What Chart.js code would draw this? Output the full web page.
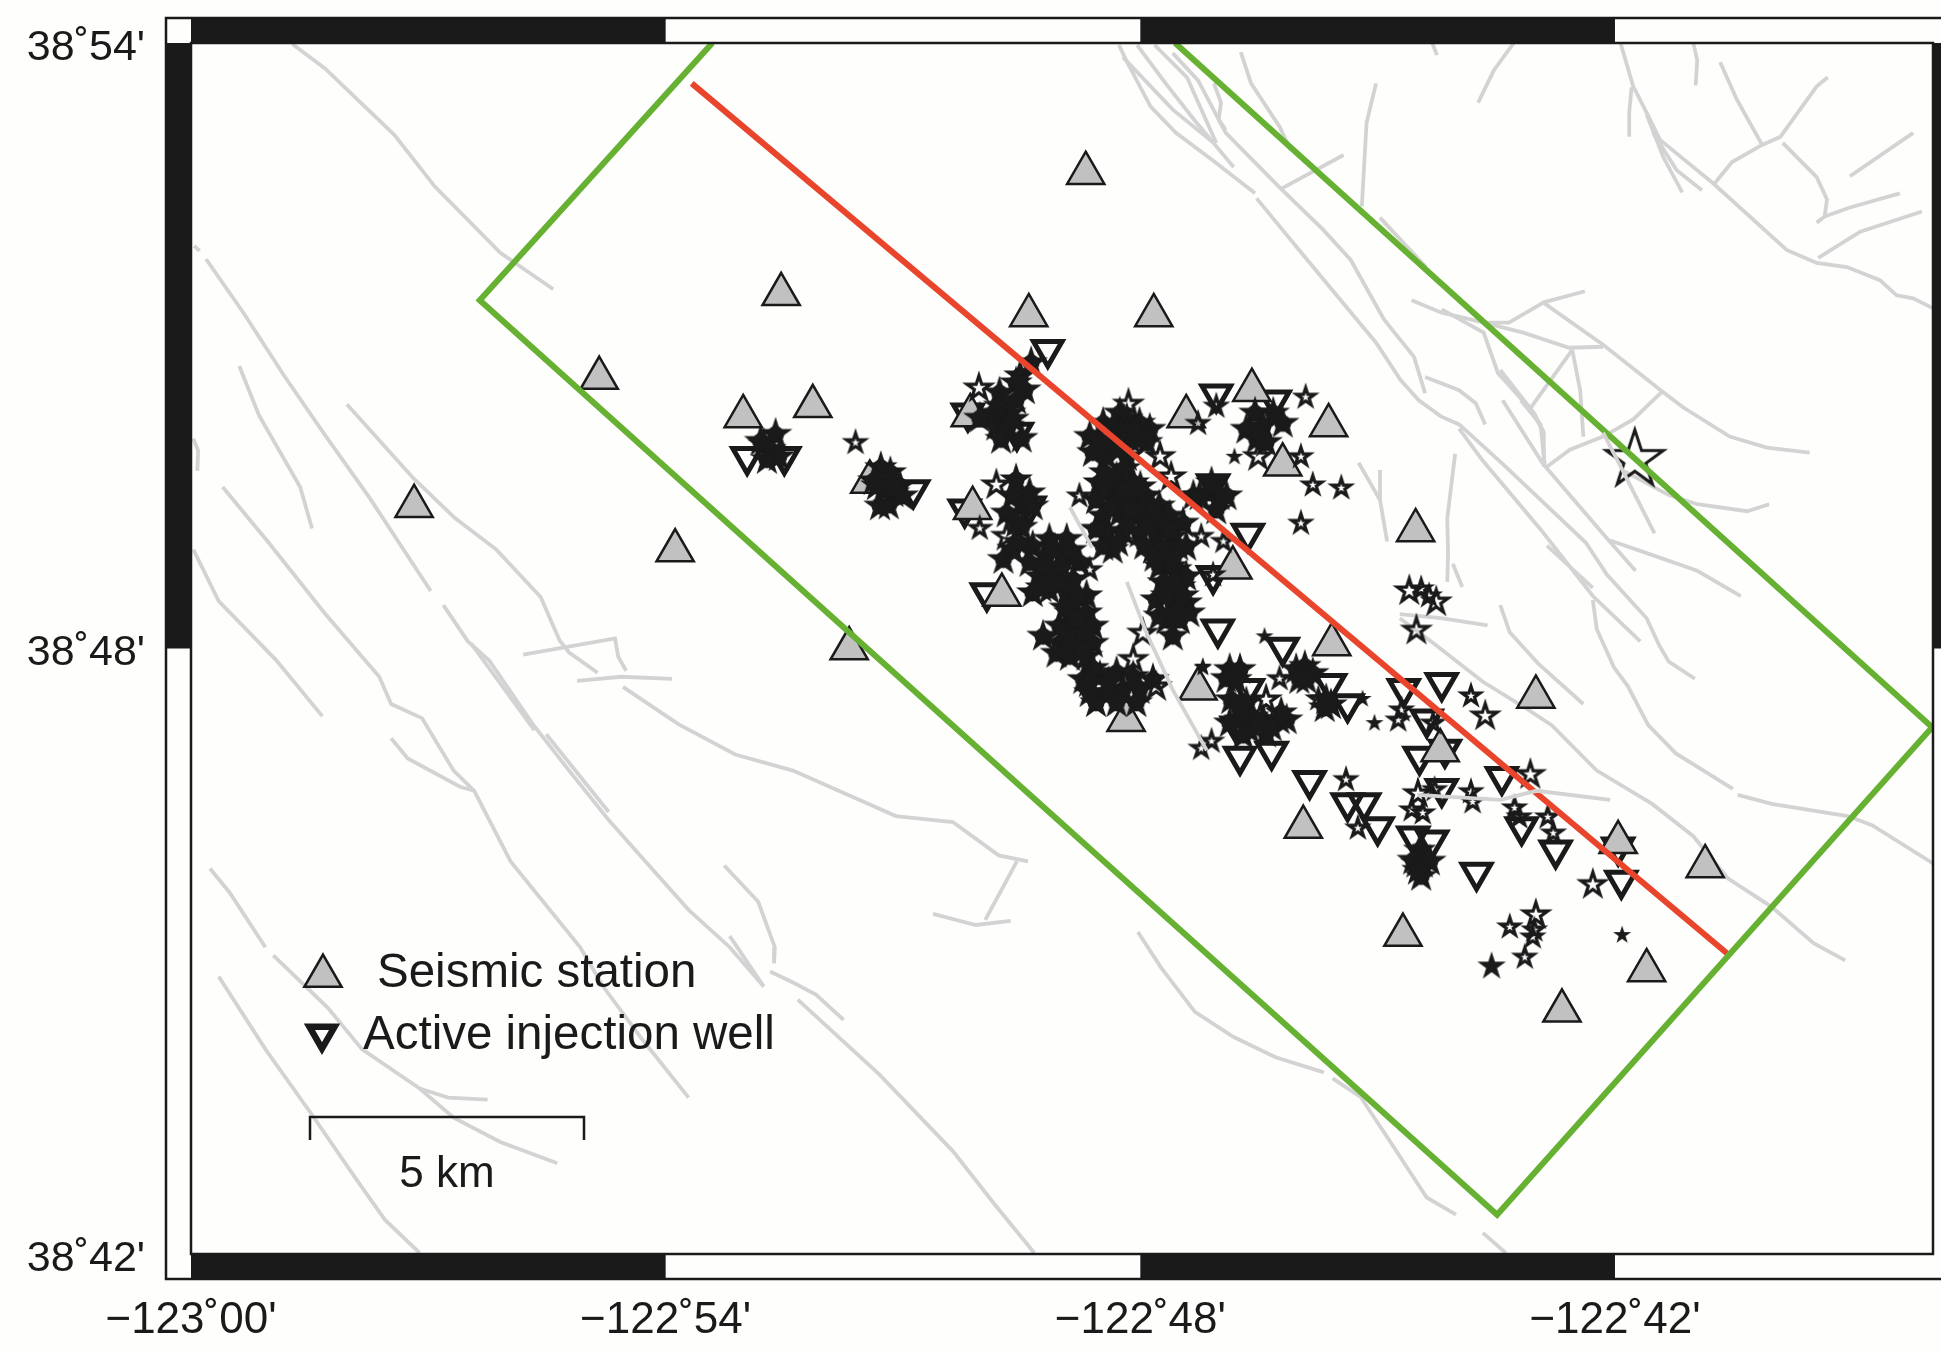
<!DOCTYPE html>
<html>
<head>
<meta charset="utf-8">
<title>Seismicity map</title>
<script src="https://cdn.jsdelivr.net/npm/chart.js@4/dist/chart.umd.min.js"></script>
<style>
  html, body { margin: 0; padding: 0; background: #fefefd; }
  canvas { display: block; }
</style>
</head>
<body>
<canvas id="map" width="1941" height="1353"></canvas>
<script>
// All positions are arc-minutes: east of 123deg00'W, north of 38deg42'N
const lonTicks = [0, 6, 12, 18];
const lonTickLabels = ["\u2212123\u02DA00'", "\u2212122\u02DA54'", "\u2212122\u02DA48'", "\u2212122\u02DA42'"];
const latTicks = [0, 6, 12];
const latTickLabels = ["38\u02DA42'", "38\u02DA48'", "38\u02DA54'"];
const lonMax = 22.02;
const latMax = 12;

const stationEast = [11.31, 7.46, 10.59, 12.17, 5.16, 7.86, 6.98, 13.41, 12.58, 9.85, 14.38, 13.80, 8.58, 2.82, 9.88, 6.12, 15.48, 13.17, 10.25, 8.32, 14.42, 12.73, 17.00, 11.82, 15.79, 14.06, 18.04, 19.14, 15.32, 18.40, 17.33];
const stationNorth = [10.71, 9.51, 9.30, 9.30, 8.68, 8.40, 8.30, 8.56, 8.30, 8.31, 8.21, 7.82, 7.65, 7.41, 7.39, 6.97, 7.17, 6.80, 6.53, 6.00, 6.04, 5.60, 5.52, 5.29, 4.99, 4.23, 4.08, 3.84, 3.16, 2.81, 2.41];

const wellEast = [7.03, 7.50, 9.13, 10.83, 9.82, 10.44, 12.96, 13.70, 9.78, 12.92, 10.60, 13.36, 12.92, 12.98, 10.06, 13.80, 14.40, 14.62, 13.36, 13.26, 13.66, 13.22, 15.33, 15.81, 15.62, 15.53, 15.85, 15.81, 16.57, 16.82, 17.25, 18.04, 18.08, 14.14, 14.62, 14.83, 15.00, 15.45, 15.69, 16.25];
const wellNorth = [7.90, 7.90, 7.57, 8.96, 8.33, 8.14, 8.52, 8.46, 7.38, 7.63, 7.41, 7.14, 6.72, 6.19, 6.55, 6.01, 5.65, 5.45, 5.60, 4.93, 4.98, 5.23, 5.60, 5.66, 5.30, 4.93, 5.00, 4.61, 4.73, 4.23, 4.00, 4.03, 3.70, 4.69, 4.47, 4.47, 4.23, 4.14, 4.10, 3.78];

// earthquakes, one list per symbol size: [east, north]
const quakesSmall = [[13.57,6.12],[12.79,5.81],[12.79,5.82],[14.81,5.50],[14.96,5.26],[18.09,3.16],[13.19,7.90]];
const quakesMedium = [[11.36,6.78],[9.97,7.19],[11.23,7.51],[14.03,7.90],[14.09,8.49],[14.18,7.62],[14.54,7.59],[14.03,7.24],[12.73,8.23],[12.96,8.40],[12.77,7.11],[13.05,7.06],[12.92,6.73],[8.40,8.04],[12.90,5.08],[12.77,5.01],[13.76,5.70],[14.25,5.50],[15.26,5.29],[15.30,5.39],[16.18,5.53],[15.57,4.37],[15.43,4.40],[16.18,4.58],[16.20,4.48],[15.72,4.60],[16.73,4.42],[16.79,4.33],[17.15,4.33],[17.22,4.17],[14.60,4.70],[14.75,4.22],[16.67,3.24],[16.98,3.21],[16.96,3.14],[16.86,2.94],[15.70,5.26],[15.55,6.59],[15.65,6.52]];
const quakesSolid = [[16.44,2.85]];
const quakesBig = [[18.25,7.87]];
const quakesLarge = [
  [9.96,8.58],[10.18,7.62],[11.85,8.42],[12.25,7.90],[12.39,7.70],[11.91,5.89],[12.03,6.15],[12.20,5.62],[13.49,7.90],[10.31,7.11],
  [16.36,5.33],[15.49,6.18],[15.51,4.56],[16.93,4.75],[17.72,3.66],[17.00,3.36],[15.40,6.57],[15.74,6.46],[13.59,5.49]
];
// heavily overlapped events in the dense swarms
const quakesSwarm = [
  [10.22,8.53],[10.43,8.63],[10.54,8.56],[10.48,8.70],[10.62,8.83],[10.24,8.30],[10.22,8.40],[10.35,8.33],[10.14,8.33],[10.18,8.20],[10.33,8.20],[10.39,8.27],[10.24,8.07],[10.50,8.08],[9.97,8.28],[10.43,8.46],
  [11.53,8.23],[11.36,8.10],[11.40,7.94],[11.66,8.20],[11.83,8.27],[11.99,8.23],[12.12,8.17],[11.66,8.04],[11.87,8.07],[12.08,8.04],[11.57,7.90],[11.83,7.90],[11.74,8.33],[11.99,8.07],[11.50,8.05],[11.75,8.12],[11.93,8.16],[11.73,7.97],
  [11.48,7.64],[11.70,7.69],[11.91,7.64],[11.44,7.47],[11.65,7.51],[11.86,7.47],[12.07,7.51],[12.24,7.41],[11.53,7.31],[11.74,7.34],[11.95,7.31],[12.16,7.28],[12.37,7.31],[12.54,7.24],[11.57,7.14],[11.78,7.16],[11.99,7.14],[12.20,7.13],[12.41,7.11],[11.65,6.98],[12.16,6.98],[12.37,6.95],[12.58,7.01],[11.53,7.01],[11.59,7.57],[11.80,7.57],[12.01,7.41],[11.63,7.41],[11.84,7.24],[12.10,7.21],[12.31,7.21],[12.48,7.01],[11.44,7.18],[12.27,7.01],[11.55,7.74],[11.80,7.78],[12.00,7.60],[12.15,7.40],[12.35,7.18],[12.05,7.02],[11.72,7.05],[11.88,7.38],
  [12.24,6.81],[12.45,6.78],[12.58,6.71],[12.29,6.65],[12.50,6.61],[12.20,6.48],[12.41,6.45],[12.58,6.45],[12.33,6.28],[12.50,6.28],[12.62,6.35],[12.41,6.12],[12.39,6.81],[12.33,6.52],[12.54,6.52],[12.24,6.32],[12.18,6.90],[12.42,6.90],[12.40,6.60],[12.45,6.35],
  [10.64,7.01],[10.85,7.08],[11.07,7.08],[10.60,6.85],[10.81,6.91],[11.02,6.91],[11.23,6.85],[10.73,6.71],[10.94,6.75],[11.15,6.68],[10.64,6.55],[10.85,6.58],[11.07,6.55],[11.32,6.52],[10.77,6.81],[10.98,6.65],[10.92,6.98],[11.12,6.97],[11.00,6.82],[10.75,6.60],[11.20,6.52],
  [11.11,6.35],[11.32,6.35],[10.98,6.22],[11.19,6.22],[11.40,6.22],[10.77,6.12],[10.98,6.05],[11.19,6.05],[11.40,6.05],[11.11,5.92],[11.32,5.92],[10.94,5.95],[11.09,6.15],[11.30,6.14],[11.05,6.40],[11.20,6.30],[11.10,6.05],[11.28,5.98],
  [11.28,5.69],[11.49,5.72],[11.70,5.76],[11.91,5.72],[11.36,5.56],[11.57,5.56],[11.78,5.59],[11.99,5.59],[11.44,5.46],[11.70,5.46],[11.95,5.46],[12.16,5.69],[11.40,5.80],[11.60,5.66],[11.35,5.66],
  [10.43,7.67],[10.39,7.51],[10.52,7.41],[10.31,7.34],[10.43,7.24],[10.64,7.41],[10.60,7.54],[10.27,6.88],[10.39,6.98],[10.50,7.20],[10.46,7.05],
  [13.45,8.33],[13.34,8.17],[13.55,8.20],[13.68,8.33],[13.80,8.23],[13.47,8.07],[13.59,8.04],
  [12.88,7.54],[13.00,7.51],[12.75,7.51],[12.90,7.64],[13.09,7.51],[12.96,7.37],[12.67,7.51],
  [7.39,8.12],[7.24,8.02],[7.32,7.97],[7.43,7.90],[7.28,7.87],[7.20,8.05],
  [8.72,7.79],[8.84,7.74],[8.67,7.61],[8.75,7.57],[8.88,7.54],[8.71,7.41],[8.82,7.42],[8.63,7.66],[8.96,7.61],[8.99,7.51],
  [13.13,5.79],[13.26,5.79],[13.09,5.70],[13.21,5.69],[13.15,5.49],[13.34,5.46],[13.42,5.32],[13.26,5.29],[13.13,5.26],[13.55,5.29],[13.76,5.29],[13.85,5.29],[13.38,5.19],[13.59,5.16],[13.30,5.14],[13.47,5.22],[13.78,5.36],[13.66,5.22],[13.25,5.40],
  [13.97,5.79],[14.08,5.82],[14.18,5.75],[14.10,5.69],[14.01,5.69],[14.35,5.49],[14.41,5.44],[14.33,5.41],
  [15.53,4.00],[15.49,3.87],[15.57,3.87],[15.45,3.90],[15.66,3.89],[15.55,3.74],[15.51,3.80]
];

// mapped fault traces: east, north, east, north, ...
const faultTraces = [
  [1.28,11.99,1.69,11.75,2.57,11.09,3.08,10.58,3.91,9.92,4.58,9.56],
  [0.04,9.99,0.11,9.94],
  [0.19,9.86,0.66,9.33,1.18,8.70,1.69,8.12,2.26,7.49,3.03,6.57],
  [0.61,8.80,0.86,8.31,1.38,7.60,1.53,7.19],
  [1.97,8.42,2.82,7.68,3.34,7.29,3.86,6.98,4.42,6.51,4.66,6.08,4.78,5.96,5.14,5.76],
  [0.40,7.60,0.97,7.06,1.69,6.35,2.38,5.72,2.53,5.45,2.92,5.31,3.32,4.79,3.58,4.59,4.04,3.89,4.92,3.04,5.21,2.65,5.71,2.12,6.29,1.55],
  [0.03,6.98,0.35,6.47,1.07,5.89,1.66,5.33],
  [0.03,8.08,0.09,7.96,0.08,7.76],
  [2.53,5.11,2.74,4.91,3.40,4.63,3.58,4.59],
  [3.19,6.43,3.50,6.07,3.77,5.88,4.34,5.23,4.78,4.79,5.28,4.30,5.79,3.85,6.29,3.41,6.81,3.04,7.24,2.65],
  [7.67,2.52,8.70,1.78,9.63,1.02,10.15,0.50,10.66,0.01],
  [3.54,6.05,4.34,5.19],
  [4.49,5.15,5.28,4.38],
  [6.74,3.85,7.17,3.49,7.38,3.04,7.37,2.88],
  [6.81,3.15,7.24,2.65],
  [7.32,2.80,7.61,2.69,7.90,2.57,8.25,2.32],
  [0.24,3.82,0.49,3.58,0.94,3.04],
  [1.04,2.96,1.73,2.44,2.16,2.03,2.89,1.64,3.32,1.35,3.91,1.11,4.63,0.90],
  [2.89,1.64,3.25,1.55,3.75,1.53],
  [0.35,2.75,0.94,2.03,1.52,1.39,2.09,0.74,2.45,0.34,2.89,0.01],
  [4.20,5.94,5.36,6.10,5.40,5.92,5.50,5.78],
  [4.88,5.68,5.44,5.72,6.08,5.70],
  [5.46,5.62,6.16,5.25,6.88,4.95,7.61,4.79,8.33,4.54,8.91,4.34,9.63,4.28,10.21,3.95,10.58,3.89],
  [10.44,3.89,10.04,3.31],
  [9.38,3.37,9.92,3.26,10.36,3.30],
  [11.97,3.19,12.26,2.84,12.69,2.40,13.18,2.15,13.71,1.95,14.32,1.80],
  [14.43,1.74,14.78,1.56,15.12,1.16,15.62,0.56,15.99,0.39],
  [16.33,0.21,16.62,0.01],
  [11.73,11.98,11.82,11.83,12.13,11.37,12.45,11.11,12.91,10.84,13.45,10.51],
  [13.47,10.46,14.08,9.88,14.98,9.03,15.29,8.66,15.52,8.46,15.80,8.30,16.03,8.22,16.58,7.83,17.63,7.05,17.90,6.73,18.40,6.30,18.56,6.03,18.68,5.87,19.01,5.70],
  [11.96,11.98,12.32,11.60,12.68,11.24,13.18,10.77],
  [12.18,11.98,12.59,11.66,12.96,11.01],
  [11.78,11.86,12.41,11.34,12.93,11.01],
  [12.41,11.90,12.73,11.63,13.08,11.11,13.76,10.57,14.31,10.15,14.66,9.85,15.08,9.26,15.46,8.89,15.60,8.53],
  [12.93,11.60,13.02,11.41,12.99,11.24,13.08,11.14],
  [13.27,11.91,13.40,11.60,13.76,11.17,13.90,10.94],
  [13.79,10.56,14.57,10.89],
  [14.98,11.60,14.86,11.21,14.80,10.38],
  [15.03,10.27,15.61,9.78],
  [15.69,12.00,15.75,11.88],
  [16.72,12.00,16.47,11.73,16.27,11.41],
  [15.60,8.69,16.03,8.56,16.24,8.43,16.36,8.22],
  [15.43,9.45,15.80,9.33,16.34,9.23,16.66,9.23,17.10,9.43,17.62,9.54],
  [15.81,9.36,16.34,9.13,16.52,8.73,16.98,8.33,17.10,8.14,17.10,7.80],
  [16.34,9.23,16.84,9.13,17.42,8.98,17.85,8.99],
  [17.09,9.43,17.85,9.01,18.61,8.54,18.86,8.39,19.45,8.10,19.92,7.99,20.46,7.94],
  [17.46,8.96,16.93,8.38],
  [17.46,8.96,17.56,8.56,17.60,8.10],
  [16.55,8.76,16.93,8.38,17.08,8.17,17.11,7.80],
  [17.14,7.80,17.43,7.97,17.85,8.10,18.23,8.27,18.59,8.54],
  [16.58,8.46,17.09,7.83,17.90,7.09,18.26,6.77],
  [16.81,8.46,17.06,8.22,17.11,7.83],
  [16.03,8.18,16.33,7.86,17.06,7.18,17.72,6.52,18.32,6.07],
  [17.14,7.02,17.72,6.60],
  [17.94,7.07,18.42,6.94,19.04,6.77,19.59,6.52],
  [17.72,6.48,17.77,6.19,17.99,5.81,18.16,5.63,18.42,5.24,18.77,4.96,19.49,4.61],
  [19.55,4.55,19.98,4.46,20.94,4.34,21.25,4.25,22.02,3.87],
  [16.55,6.43,16.67,6.16,17.03,5.85,17.60,5.45],
  [15.28,6.30,15.71,6.05,16.33,5.67,16.85,5.42,17.20,5.24,17.77,4.79,18.47,4.46,18.99,4.14,19.43,3.72,19.98,3.44,20.51,3.08,20.91,2.91],
  [15.28,6.34,15.80,6.30,16.39,6.23],
  [15.98,7.93,15.88,7.29,15.89,6.94,15.88,6.66],
  [15.95,6.84,16.07,6.61],
  [18.11,7.76,18.68,7.52,19.04,7.43,19.67,7.36,19.95,7.43],
  [14.76,7.84,15.03,7.47,15.12,7.06],
  [15.03,7.77,15.03,7.47],
  [18.07,12.00,18.23,11.57,18.40,11.31,18.57,11.04,19.24,10.61,20.17,9.95,20.55,9.82,20.93,9.78,21.35,9.65,21.56,9.50,21.77,9.47,22.02,9.37],
  [18.40,11.29,18.61,10.87,18.85,10.52],
  [18.48,11.11,18.78,10.74,19.10,10.54],
  [18.99,12.00,19.04,11.83,19.02,11.58],
  [18.21,11.56,18.18,11.31,18.18,11.07],
  [19.33,11.81,19.54,11.44,19.86,10.99],
  [19.24,10.59,19.48,10.82,19.86,10.99,20.09,11.07,20.55,11.57,20.69,11.66],
  [20.12,11.01,20.55,10.67,20.68,10.45,20.65,10.28,20.55,10.22],
  [20.65,10.28,20.97,10.37,21.60,10.51],
  [20.97,10.68,21.77,11.11],
  [20.57,9.87,21.10,10.13,21.88,10.33]
];
// these few were drawn over the earthquakes in the original
const faultTracesOnTop = [
  [11.11,7.40,11.39,7.00],
  [11.83,6.66,12.08,6.15,12.41,5.59,12.84,4.99],
  [15.50,4.55,16.55,4.50,17.01,4.59,17.94,4.50],
  [17.85,8.14,18.08,7.79,18.50,7.14]
];

const studyBox = [12.44,12.00, 22.01,5.22, 16.51,0.39, 3.65,9.45, 6.59,12.00];
const profileLine = [6.33,11.60, 19.43,2.97];

const INK = "#1a1a1a";
const FAULT = "#d3d3d3";
const GREEN = "#66b032";
const RED = "#e8452c";
const STATION_GREY = "#c1c1c1";
const FONT = "'Liberation Sans', Arial, sans-serif";

function tracePoints(trace) {
  const pts = [];
  for (let i = 0; i < trace.length; i += 2) pts.push({x: trace[i], y: trace[i + 1]});
  return pts;
}

function lineSet(trace, color, width, order) {
  return {
    data: tracePoints(trace),
    showLine: true,
    borderColor: color,
    borderWidth: width,
    pointRadius: 0,
    tension: 0,
    order: order
  };
}

// Chart.js has no filled five pointed star, so make one as a point image
function starImage(radius, lineWidth, solid, core) {
  const size = Math.ceil(radius + lineWidth * 4) * 2;
  const c = document.createElement("canvas");
  c.width = size;
  c.height = size;
  const g = c.getContext("2d");
  g.translate(size / 2, size / 2);
  g.beginPath();
  for (let i = 0; i < 10; i++) {
    const r = i % 2 ? radius * 0.382 : radius;
    const a = -Math.PI / 2 + i * Math.PI / 5;
    g.lineTo(Math.cos(a) * r, Math.sin(a) * r);
  }
  g.closePath();
  g.strokeStyle = INK;
  g.fillStyle = INK;
  g.lineWidth = lineWidth;
  g.lineJoin = "miter";
  g.miterLimit = 10;
  if (solid) g.fill();
  if (lineWidth > 1) g.stroke();
  if (core) {
    g.beginPath();
    g.arc(0, 0, core, 0, Math.PI * 2);
    g.fill();
  }
  return c;
}

function quakeSet(list, image) {
  return {
    data: list.map(p => ({x: p[0], y: p[1]})),
    pointStyle: image,
    pointRadius: 10,
    showLine: false,
    order: 2
  };
}

const datasets = [];
faultTracesOnTop.forEach(t => datasets.push(lineSet(t, FAULT, 3.8, 0)));
datasets.push(lineSet(studyBox, GREEN, 6, 1));
datasets.push(lineSet(profileLine, RED, 6, 1));
datasets.push(quakeSet(quakesSmall, starImage(9.5, 1, true)));
datasets.push(quakeSet(quakesMedium, starImage(9.5, 3.2, false)));
datasets.push(quakeSet(quakesLarge, starImage(12.5, 3.2, false)));
datasets.push(quakeSet(quakesSwarm, starImage(12.5, 3.2, true, 8.5)));
datasets.push(quakeSet(quakesSolid, starImage(15, 1, true)));
datasets.push(quakeSet(quakesBig, starImage(30, 3, false)));
datasets.push({
  data: stationEast.map((e, i) => ({x: e, y: stationNorth[i]})),
  pointStyle: "triangle",
  pointRadius: 21.5,
  backgroundColor: STATION_GREY,
  borderColor: INK,
  borderWidth: 2.5,
  order: 3
});
datasets.push({
  data: wellEast.map((e, i) => ({x: e, y: wellNorth[i]})),
  pointStyle: "triangle",
  pointRadius: 16.5,
  rotation: 180,
  backgroundColor: "rgba(0,0,0,0)",
  borderColor: INK,
  borderWidth: 5,
  order: 4
});
faultTraces.forEach(t => datasets.push(lineSet(t, FAULT, 3.8, 5)));

// black and white map frame
const framePlugin = {
  id: "frame",
  afterDraw(chart) {
    const {ctx, chartArea: a, scales: {x, y}} = chart;
    const band = 25;
    const outerLeft = a.left - band, outerTop = a.top - band, outerBottom = a.bottom + band;
    ctx.save();
    ctx.fillStyle = "#fefefd";
    ctx.fillRect(outerLeft, outerTop, chart.width - outerLeft, band);
    ctx.fillRect(outerLeft, a.bottom, chart.width - outerLeft, band);
    ctx.fillRect(outerLeft, a.top, band, a.bottom - a.top);
    ctx.fillRect(a.right, a.top, chart.width - a.right, a.bottom - a.top);
    ctx.fillStyle = INK;
    [[0, 6], [12, 18]].forEach(([from, to]) => {
      const x0 = x.getPixelForValue(from), x1 = x.getPixelForValue(to);
      ctx.fillRect(x0, outerTop, x1 - x0, band);
      ctx.fillRect(x0, a.bottom, x1 - x0, band);
    });
    const yTop = y.getPixelForValue(12), yMid = y.getPixelForValue(6);
    ctx.fillRect(outerLeft, yTop, band, yMid - yTop);
    ctx.fillRect(a.right, yTop, chart.width - a.right, yMid - yTop);
    ctx.strokeStyle = INK;
    ctx.lineWidth = 2.5;
    ctx.strokeRect(outerLeft, outerTop, chart.width + 10 - outerLeft, outerBottom - outerTop);
    ctx.strokeRect(a.left, a.top, a.right - a.left, a.bottom - a.top);
    ctx.restore();
  }
};

// legend and scale bar sit inside the map
const keyPlugin = {
  id: "mapKey",
  afterDraw(chart) {
    const ctx = chart.ctx;
    ctx.save();
    ctx.lineJoin = "miter";
    ctx.fillStyle = STATION_GREY;
    ctx.strokeStyle = INK;
    ctx.lineWidth = 2.5;
    Chart.helpers.drawPoint(ctx, {pointStyle: "triangle", radius: 21.5, rotation: 0, borderWidth: 2.5}, 323, 976);
    ctx.fillStyle = "rgba(0,0,0,0)";
    ctx.lineWidth = 6.5;
    Chart.helpers.drawPoint(ctx, {pointStyle: "triangle", radius: 14.5, rotation: 180, borderWidth: 6.5}, 322, 1034);
    ctx.fillStyle = INK;
    ctx.textBaseline = "alphabetic";
    ctx.font = "47.5px " + FONT;
    ctx.fillText("Seismic station", 377, 987);
    ctx.fillText("Active injection well", 363, 1049);
    ctx.font = "44px " + FONT;
    ctx.textAlign = "center";
    ctx.fillText("5 km", 447, 1187);
    ctx.lineWidth = 2.5;
    ctx.beginPath();
    ctx.moveTo(310, 1140);
    ctx.lineTo(310, 1117);
    ctx.lineTo(584, 1117);
    ctx.lineTo(584, 1140);
    ctx.stroke();
    ctx.restore();
  }
};

// the plot box is fixed, so drop the room Chart.js keeps for edge labels
function noEdgePadding(s) {
  s.paddingLeft = 0;
  s.paddingRight = 0;
  s.paddingTop = 0;
  s.paddingBottom = 0;
}

new Chart(document.getElementById("map"), {
  type: "scatter",
  data: {datasets: datasets},
  plugins: [framePlugin, keyPlugin],
  options: {
    responsive: false,
    animation: false,
    layout: {autoPadding: false, padding: {top: 43, right: 8}},
    plugins: {legend: {display: false}, tooltip: {enabled: false}},
    scales: {
      x: {
        type: "linear",
        min: 0,
        max: lonMax,
        grid: {display: false, drawTicks: false},
        border: {display: false},
        afterBuildTicks: s => { s.ticks = lonTicks.map(v => ({value: v})); },
        afterFit: s => { s.height = 99; noEdgePadding(s); },
        ticks: {
          autoSkip: false,
          maxRotation: 0,
          minRotation: 0,
          padding: 40,
          color: INK,
          font: {family: FONT, size: 44},
          callback: v => lonTickLabels[lonTicks.indexOf(v)]
        }
      },
      y: {
        type: "linear",
        min: 0,
        max: latMax,
        grid: {display: false, drawTicks: false},
        border: {display: false},
        afterBuildTicks: s => { s.ticks = latTicks.map(v => ({value: v})); },
        afterFit: s => { s.width = 191; noEdgePadding(s); },
        ticks: {
          autoSkip: false,
          padding: 46,
          labelOffset: 5,
          color: INK,
          font: {family: FONT, size: 43},
          callback: v => latTickLabels[latTicks.indexOf(v)]
        }
      }
    }
  }
});
</script>
</body>
</html>
